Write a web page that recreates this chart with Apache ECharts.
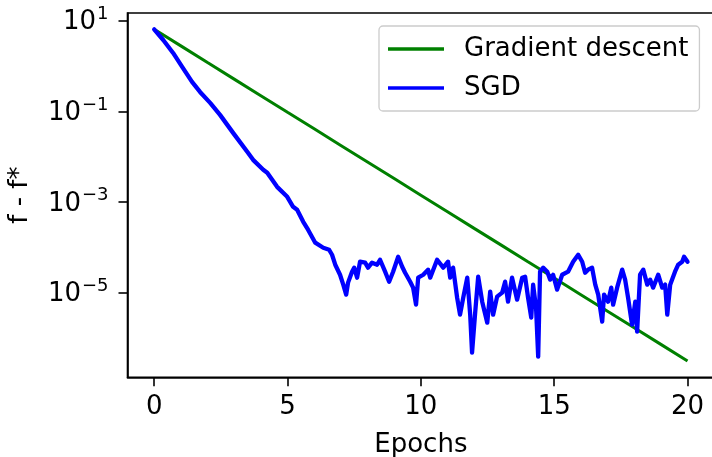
<!DOCTYPE html>
<html>
<head>
<meta charset="utf-8">
<script src="https://cdn.jsdelivr.net/npm/echarts@6/dist/echarts.min.js"></script>
<style>
html,body{margin:0;padding:0;background:#fff;}
#c{width:712px;height:457px;}
</style>
</head>
<body>
<div id="c"></div>
<script>
// ---- data ----
const gdEpochs = [0,1,2,3,4,5,6,7,8,9,10,11,12,13,14,15,16,17,18,19,20];
const gdValues = [6.46,2.78,1.19,0.513,0.221,0.095,0.0409,0.0176,0.00757,0.00326,0.0014,6.03e-4,2.59e-4,1.12e-4,4.8e-5,2.07e-5,8.9e-6,3.83e-6,1.65e-6,7.1e-7,3.05e-7];

const sgdEpochs = [0,0.34,0.71,1.05,1.42,1.72,2.10,2.47,2.96,3.49,3.71,4.09,4.24,4.61,4.99,5.21,5.36,5.59,5.77,6.04,6.34,6.56,6.67,6.79,6.97,7.09,7.20,7.27,7.42,7.50,7.61,7.72,7.91,8.02,8.17,8.36,8.47,8.66,8.81,8.96,9.15,9.30,9.41,9.60,9.71,9.82,9.90,10.09,10.27,10.35,10.61,10.84,11.02,11.10,11.21,11.36,11.47,11.59,11.74,11.85,11.92,12.04,12.15,12.30,12.49,12.60,12.71,12.86,13.05,13.16,13.27,13.42,13.61,13.80,13.91,14.02,14.14,14.21,14.32,14.40,14.47,14.59,14.74,14.85,14.96,15.11,15.30,15.52,15.71,15.90,16.05,16.16,16.27,16.42,16.54,16.65,16.80,16.87,17.02,17.14,17.21,17.36,17.55,17.66,17.77,17.92,18.04,18.11,18.22,18.34,18.49,18.60,18.71,18.90,19.05,19.16,19.24,19.35,19.53,19.65,19.80,19.87,20.0];
const sgdValues = [6.46,3.75,1.94,0.953,0.445,0.267,0.153,0.0832,0.0333,0.0127,8.45e-3,5.09e-3,4.37e-3,2.14e-3,1.29e-3,7.76e-4,6.67e-4,3.62e-4,2.42e-4,1.25e-4,9.68e-5,8.73e-5,6.78e-5,4.08e-5,2.45e-5,1.48e-5,8.89e-6,1.64e-5,2.86e-5,3.51e-5,2.11e-5,4.75e-5,4.52e-5,3.51e-5,4.52e-5,4.08e-5,5.26e-5,2.86e-5,1.72e-5,2.86e-5,6.12e-5,3.69e-5,2.72e-5,1.72e-5,1.27e-5,5.35e-6,2.11e-5,2.45e-5,3.17e-5,2.11e-5,5.26e-5,3.51e-5,4.75e-5,2.11e-5,3.51e-5,7.64e-6,3.21e-6,7.64e-6,2.11e-5,3.21e-6,4.67e-7,3.75e-6,2.22e-5,6.22e-6,2.14e-6,1.04e-5,3.21e-6,8.04e-6,9.84e-6,1.72e-5,6.22e-6,2.11e-5,6.89e-6,2.11e-5,2.22e-5,7.64e-6,2.76e-6,1.48e-5,4.59e-6,3.81e-7,2.86e-5,3.51e-5,2.86e-5,1.91e-5,2.45e-5,1.15e-5,2.45e-5,2.86e-5,4.75e-5,6.78e-5,4.75e-5,2.72e-5,3.17e-5,3.51e-5,1.48e-5,8.89e-6,2.25e-6,8.89e-6,6.22e-6,1.27e-5,5.35e-6,1.27e-5,3.17e-5,1.91e-5,7.64e-6,1.94e-6,6.22e-6,1.36e-6,2.45e-5,3.17e-5,1.48e-5,1.91e-5,1.27e-5,2.45e-5,1.27e-5,1.48e-5,3.21e-6,1.48e-5,2.86e-5,4.08e-5,4.75e-5,6.12e-5,4.75e-5];

const xTicks = [0,5,10,15,20];
const yTicks = [10,0.1,0.001,0.00001];
const seriesNames = ['Gradient descent','SGD'];
const xTitle = 'Epochs';
const yTitle = 'f - f*';

// ---- chart ----
const FONT = 'DejaVu Sans';
const chart = echarts.init(document.getElementById('c'), null, {renderer:'canvas'});
const pairs = (xs, ys) => xs.map((x,i)=>[x, ys[i]]);
const lineIcon = 'path://M0,0 L56,0 L56,3.6 L0,3.6 Z';

chart.setOption({
  animation:false,
  backgroundColor:'#ffffff',
  textStyle:{fontFamily:FONT},
  grid:{left:127.5, top:13, width:586.7, height:364.3, show:true, borderColor:'#000', borderWidth:1.6,
        backgroundColor:'transparent', containLabel:false, outerBoundsMode:'none'},
  legend:{
    orient:'vertical', left:379, top:26,
    data:[{name:seriesNames[0], icon:lineIcon},{name:seriesNames[1], icon:lineIcon}],
    itemWidth:56, itemHeight:3.6, itemGap:9,
    padding:[8,11,8,9],
    backgroundColor:'rgba(255,255,255,0.8)',
    borderColor:'#cccccc', borderWidth:1.3, borderRadius:4,
    textStyle:{fontFamily:FONT, fontSize:26, color:'#000', lineHeight:30, padding:[0,0,0,15]}
  },
  xAxis:{
    type:'value', min:-1, max:21,
    name:xTitle, nameLocation:'middle', nameGap:55,
    nameTextStyle:{fontFamily:FONT, fontSize:26, color:'#000'},
    axisLine:{show:true, onZero:false, lineStyle:{color:'#000', width:1.6}},
    axisTick:{show:true, length:9, lineStyle:{color:'#000', width:1.6}, customValues:xTicks},
    axisLabel:{fontFamily:FONT, fontSize:26, color:'#000', margin:17, customValues:xTicks},
    splitLine:{show:false}
  },
  yAxis:{
    type:'log', logBase:10, min:1.33e-7, max:14.8,
    name:yTitle, nameLocation:'middle', nameGap:94, nameRotate:90,
    nameTextStyle:{fontFamily:FONT, fontSize:26, color:'#000'},
    axisLine:{show:true, onZero:false, lineStyle:{color:'#000', width:1.6}},
    axisTick:{show:true, length:9, lineStyle:{color:'#000', width:1.6}, customValues:yTicks},
    minorTick:{show:false},
    axisLabel:{
      customValues:yTicks, margin:19, color:'#000',
      formatter:function(v){
        const e = Math.round(Math.log10(v));
        return '{b|10}{s|' + (e<0 ? '\u2212'+(-e) : String(e)) + '}';
      },
      rich:{
        b:{fontFamily:FONT, fontSize:26, color:'#000', lineHeight:30, verticalAlign:'bottom'},
        s:{fontFamily:FONT, fontSize:18, color:'#000', lineHeight:20, verticalAlign:'top', padding:[0,0,0,1]}
      }
    },
    splitLine:{show:false}
  },
  series:[
    {name:seriesNames[0], type:'line', data:pairs(gdEpochs, gdValues), showSymbol:false, symbol:'none',
     color:'#008000', lineStyle:{color:'#008000', width:3}, itemStyle:{color:'#008000'}, z:2},
    {name:seriesNames[1], type:'line', data:pairs(sgdEpochs, sgdValues), showSymbol:false, symbol:'none',
     color:'#0000ff', lineStyle:{color:'#0000ff', width:4.3, join:'round', cap:'round'}, itemStyle:{color:'#0000ff'}, z:3}
  ]
});
</script>
</body>
</html>
